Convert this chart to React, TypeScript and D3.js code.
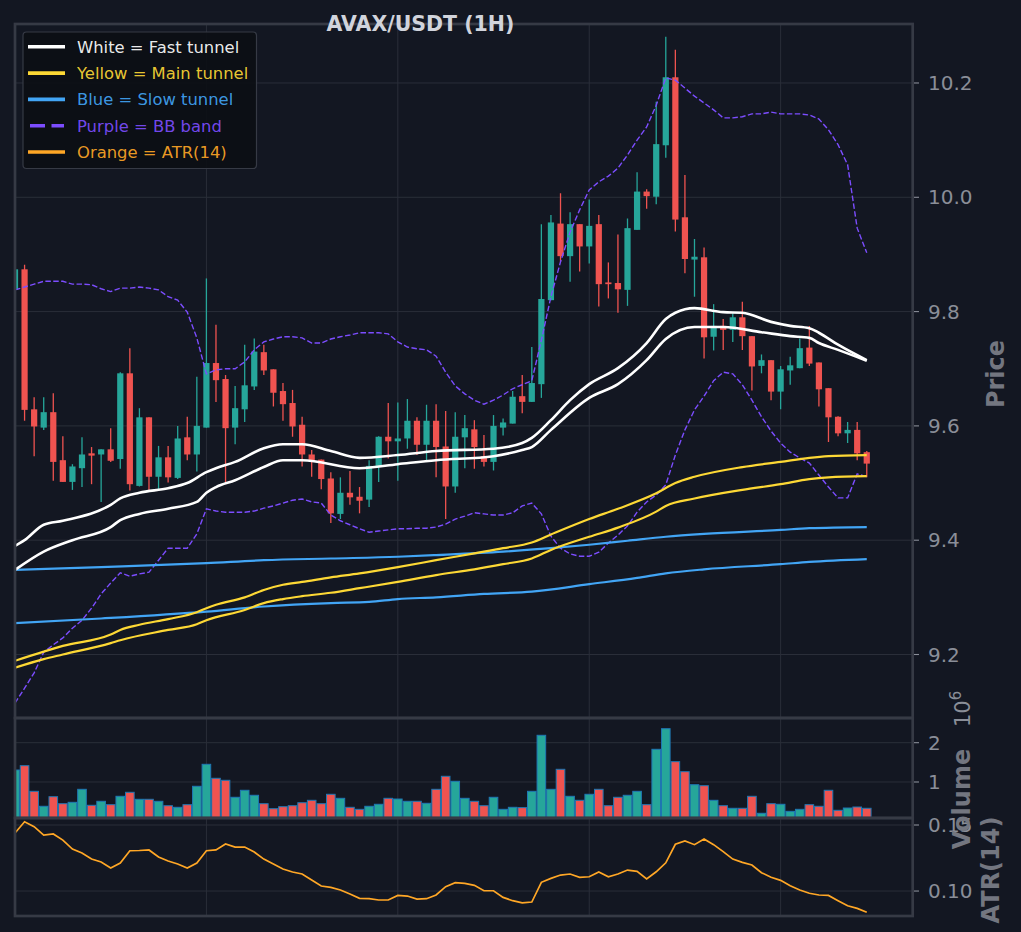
import React from "react";
import * as d3 from "d3";

// ---------------- DATA ----------------
const titleText = "AVAX/USDT (1H)";

const opens = [
  9.838, 9.874, 9.629, 9.597, 9.624, 9.540, 9.502, 9.526, 9.552, 9.550,
  9.559, 9.542, 9.692, 9.495, 9.615, 9.511, 9.545, 9.509, 9.580, 9.550,
  9.597, 9.710, 9.682, 9.597, 9.629, 9.669, 9.729, 9.699, 9.661, 9.640,
  9.602, 9.550, 9.541, 9.508, 9.446, 9.483, 9.476, 9.471, 9.530, 9.581,
  9.573, 9.578, 9.609, 9.567, 9.609, 9.564, 9.494, 9.580, 9.594, 9.547,
  9.537, 9.597, 9.604, 9.652, 9.642, 9.673, 9.820, 9.954, 9.897, 9.953,
  9.914, 9.953, 9.851, 9.850, 9.838, 9.943, 10.010, 10.001, 10.091, 10.210,
  9.965, 9.891, 9.895, 9.756, 9.775, 9.768, 9.790, 9.757, 9.705, 9.715,
  9.660, 9.697, 9.701, 9.737, 9.711, 9.666, 9.616, 9.587, 9.593, 9.554,
];
const highs = [
  9.876, 9.882, 9.650, 9.650, 9.657, 9.582, 9.533, 9.580, 9.563, 9.559,
  9.596, 9.694, 9.736, 9.631, 9.615, 9.565, 9.565, 9.600, 9.616, 9.686,
  9.858, 9.777, 9.689, 9.670, 9.742, 9.753, 9.742, 9.699, 9.675, 9.663,
  9.616, 9.558, 9.541, 9.519, 9.510, 9.521, 9.493, 9.540, 9.582, 9.640,
  9.641, 9.647, 9.615, 9.637, 9.638, 9.626, 9.624, 9.619, 9.610, 9.584,
  9.619, 9.613, 9.661, 9.689, 9.738, 9.953, 9.969, 10.007, 9.974, 9.953,
  9.996, 9.969, 9.886, 9.935, 9.963, 10.044, 10.014, 10.167, 10.281, 10.258,
  10.039, 9.927, 9.912, 9.813, 9.787, 9.797, 9.817, 9.757, 9.725, 9.715,
  9.705, 9.721, 9.753, 9.775, 9.711, 9.666, 9.617, 9.607, 9.607, 9.556,
];
const lows = [
  9.830, 9.609, 9.547, 9.593, 9.504, 9.502, 9.488, 9.493, 9.498, 9.467,
  9.537, 9.525, 9.487, 9.494, 9.488, 9.488, 9.501, 9.507, 9.540, 9.520,
  9.597, 9.642, 9.501, 9.568, 9.607, 9.663, 9.689, 9.634, 9.609, 9.581,
  9.529, 9.511, 9.489, 9.430, 9.437, 9.462, 9.447, 9.458, 9.502, 9.543,
  9.504, 9.560, 9.549, 9.539, 9.510, 9.437, 9.483, 9.526, 9.525, 9.529,
  9.522, 9.583, 9.604, 9.622, 9.642, 9.649, 9.820, 9.887, 9.852, 9.870,
  9.884, 9.809, 9.823, 9.798, 9.810, 9.943, 9.980, 9.988, 10.069, 9.940,
  9.867, 9.826, 9.718, 9.732, 9.733, 9.747, 9.733, 9.662, 9.692, 9.645,
  9.629, 9.672, 9.701, 9.705, 9.634, 9.572, 9.582, 9.570, 9.540, 9.510,
];
const closes = [
  9.874, 9.628, 9.599, 9.624, 9.537, 9.502, 9.529, 9.550, 9.548, 9.559,
  9.539, 9.692, 9.498, 9.615, 9.511, 9.545, 9.510, 9.578, 9.550, 9.600,
  9.710, 9.680, 9.596, 9.631, 9.671, 9.730, 9.697, 9.658, 9.638, 9.599,
  9.550, 9.540, 9.507, 9.447, 9.483, 9.475, 9.469, 9.530, 9.581, 9.573,
  9.578, 9.609, 9.567, 9.609, 9.563, 9.494, 9.581, 9.596, 9.563, 9.537,
  9.600, 9.606, 9.651, 9.642, 9.675, 9.822, 9.956, 9.897, 9.953, 9.914,
  9.950, 9.848, 9.848, 9.839, 9.946, 10.010, 10.002, 10.093, 10.210, 9.961,
  9.892, 9.896, 9.755, 9.775, 9.768, 9.790, 9.757, 9.704, 9.715, 9.660,
  9.699, 9.706, 9.736, 9.709, 9.664, 9.615, 9.587, 9.593, 9.552, 9.534,
];
// volume, in millions (axis offset 10^6)
const volumesM = [
  1.305, 1.415, 0.763, 0.382, 0.626, 0.448, 0.483, 0.814, 0.407, 0.509,
  0.423, 0.636, 0.738, 0.560, 0.560, 0.509, 0.397, 0.356, 0.423, 0.891,
  1.450, 1.094, 1.043, 0.611, 0.789, 0.662, 0.448, 0.321, 0.372, 0.397,
  0.473, 0.534, 0.448, 0.687, 0.585, 0.356, 0.305, 0.382, 0.433, 0.585,
  0.567, 0.509, 0.509, 0.458, 0.814, 1.145, 1.018, 0.585, 0.509, 0.397,
  0.611, 0.305, 0.356, 0.348, 0.763, 2.188, 0.814, 1.323, 0.636, 0.534,
  0.687, 0.814, 0.397, 0.611, 0.662, 0.763, 0.423, 1.832, 2.356, 1.517,
  1.262, 0.931, 0.906, 0.534, 0.397, 0.331, 0.331, 0.636, 0.204, 0.448,
  0.433, 0.254, 0.305, 0.423, 0.382, 0.789, 0.280, 0.338, 0.364, 0.331,
];
const atr14 = [
  0.1439, 0.1525, 0.1487, 0.1424, 0.1432, 0.1386, 0.1318, 0.1288, 0.1242, 0.1220,
  0.1174, 0.1212, 0.1305, 0.1307, 0.1311, 0.1258, 0.1227, 0.1205, 0.1174, 0.1212,
  0.1305, 0.1311, 0.1356, 0.1333, 0.1333, 0.1295, 0.1242, 0.1205, 0.1167, 0.1144,
  0.1129, 0.1083, 0.1038, 0.1028, 0.1008, 0.0977, 0.0945, 0.0942, 0.0932, 0.0932,
  0.0967, 0.0962, 0.0939, 0.0942, 0.0970, 0.1033, 0.1063, 0.1058, 0.1043, 0.1002,
  0.1002, 0.0952, 0.0927, 0.0911, 0.0917, 0.1066, 0.1096, 0.1121, 0.1129, 0.1104,
  0.1108, 0.1144, 0.1108, 0.1129, 0.1159, 0.1149, 0.1091, 0.1146, 0.1214, 0.1354,
  0.1379, 0.1351, 0.1394, 0.1351, 0.1298, 0.1242, 0.1217, 0.1197, 0.1139, 0.1104,
  0.1081, 0.1040, 0.1008, 0.0983, 0.0970, 0.0967, 0.0927, 0.0889, 0.0869, 0.0839,
];
const bbUpper = [
  9.838, 9.843, 9.848, 9.853, 9.853, 9.853, 9.848, 9.848, 9.847, 9.840,
  9.835, 9.841, 9.841, 9.843, 9.841, 9.838, 9.826, 9.820, 9.799, 9.754,
  9.691, 9.698, 9.700, 9.700, 9.712, 9.733, 9.747, 9.752, 9.756, 9.756,
  9.754, 9.745, 9.745, 9.752, 9.756, 9.759, 9.763, 9.763, 9.763, 9.761,
  9.747, 9.738, 9.735, 9.733, 9.722, 9.694, 9.670, 9.656, 9.645, 9.638,
  9.645, 9.654, 9.665, 9.672, 9.679, 9.750, 9.826, 9.887, 9.939, 9.978,
  10.013, 10.027, 10.037, 10.051, 10.074, 10.100, 10.123, 10.161, 10.209, 10.205,
  10.191, 10.177, 10.165, 10.153, 10.139, 10.139, 10.141, 10.146, 10.146, 10.149,
  10.146, 10.146, 10.146, 10.144, 10.137, 10.118, 10.092, 10.057, 9.946, 9.903,
];
const bbLower = [
  9.115, 9.141, 9.168, 9.204, 9.217, 9.229, 9.246, 9.260, 9.281, 9.306,
  9.325, 9.343, 9.337, 9.341, 9.344, 9.365, 9.386, 9.386, 9.386, 9.411,
  9.455, 9.451, 9.449, 9.449, 9.449, 9.451, 9.456, 9.460, 9.465, 9.470,
  9.472, 9.467, 9.465, 9.444, 9.434, 9.427, 9.420, 9.414, 9.416, 9.418,
  9.420, 9.420, 9.421, 9.421, 9.423, 9.428, 9.437, 9.442, 9.448, 9.446,
  9.444, 9.444, 9.448, 9.460, 9.465, 9.446, 9.407, 9.386, 9.376, 9.372,
  9.372, 9.379, 9.395, 9.409, 9.425, 9.449, 9.467, 9.479, 9.497, 9.549,
  9.593, 9.628, 9.652, 9.679, 9.694, 9.691, 9.672, 9.645, 9.616, 9.591,
  9.570, 9.554, 9.544, 9.535, 9.514, 9.493, 9.474, 9.474, 9.516, 9.511,
];
// tunnel lines read as [candle index, price]
const fastUpper: [number, number][] = [
  [0, 9.390], [1, 9.400], [3, 9.427], [5, 9.434], [10, 9.462], [11, 9.473], [13, 9.483],
  [16, 9.491], [18, 9.500], [20, 9.519], [21, 9.526], [23, 9.537], [26, 9.561], [28, 9.568],
  [30, 9.568], [33, 9.556], [36, 9.544], [40, 9.549], [44, 9.556], [50, 9.560], [53, 9.570],
  [54, 9.579], [56, 9.610], [58, 9.645], [60, 9.673], [63, 9.701], [66, 9.745], [68, 9.787],
  [69, 9.798], [71, 9.806], [74, 9.799], [76, 9.798], [79, 9.782], [81, 9.775], [83, 9.771],
  [84, 9.763], [86, 9.742], [89, 9.715],
];
const fastLower: [number, number][] = [
  [0, 9.348], [3, 9.380], [6, 9.400], [10, 9.423], [11, 9.435], [13, 9.446], [16, 9.455],
  [19, 9.467], [20, 9.483], [21, 9.493], [23, 9.505], [26, 9.528], [28, 9.540], [30, 9.540],
  [36, 9.526], [40, 9.533], [44, 9.540], [50, 9.547], [53, 9.558], [54, 9.563], [56, 9.593],
  [60, 9.649], [63, 9.673], [66, 9.715], [68, 9.752], [71, 9.773], [74, 9.773], [78, 9.764],
  [81, 9.757], [83, 9.754], [84, 9.745], [86, 9.733], [89, 9.714],
];
const mainUpper: [number, number][] = [
  [0, 9.189], [3, 9.205], [5, 9.215], [10, 9.235], [11, 9.243], [13, 9.252], [16, 9.262],
  [19, 9.274], [20, 9.281], [21, 9.287], [24, 9.300], [26, 9.313], [28, 9.322], [30, 9.327],
  [33, 9.335], [36, 9.342], [40, 9.353], [44, 9.365], [48, 9.377], [51, 9.386], [54, 9.396],
  [56, 9.410], [60, 9.437], [63, 9.455], [67, 9.482], [69, 9.500], [71, 9.511], [76, 9.528],
  [80, 9.537], [83, 9.544], [85, 9.547], [89, 9.549],
];
const mainLower: [number, number][] = [
  [0, 9.177], [3, 9.192], [5, 9.200], [10, 9.220], [11, 9.225], [16, 9.243], [19, 9.253],
  [20, 9.260], [24, 9.278], [26, 9.290], [28, 9.297], [30, 9.302], [33, 9.308], [36, 9.316],
  [40, 9.327], [44, 9.339], [48, 9.349], [51, 9.358], [54, 9.368], [56, 9.383], [60, 9.406],
  [63, 9.422], [67, 9.450], [68, 9.460], [71, 9.473], [76, 9.488], [80, 9.498], [83, 9.507],
  [85, 9.510], [89, 9.512],
];
const slowUpper: [number, number][] = [
  [0, 9.348], [9, 9.353], [20, 9.360], [26, 9.365], [33, 9.368], [40, 9.371], [44, 9.374],
  [51, 9.380], [56, 9.386], [60, 9.392], [64, 9.399], [68, 9.406], [72, 9.411], [80, 9.418],
  [83, 9.421], [89, 9.423],
];
const slowLower: [number, number][] = [
  [0, 9.255], [9, 9.263], [20, 9.275], [26, 9.284], [33, 9.290], [37, 9.292], [40, 9.297],
  [44, 9.300], [49, 9.306], [54, 9.310], [60, 9.323], [65, 9.334], [68, 9.342], [72, 9.349],
  [80, 9.358], [83, 9.362], [89, 9.367],
];

const priceTicks = [9.2, 9.4, 9.6, 9.8, 10.0, 10.2];
const volumeTicks = [1, 2];
const atrTicks = [0.1, 0.15];
const xGridTicks = [0, 20, 40, 60, 80];

const legendItems = [
  { label: "White = Fast tunnel", color: "#ffffff", dashed: false },
  { label: "Yellow = Main tunnel", color: "#fdd835", dashed: false },
  { label: "Blue = Slow tunnel", color: "#42a5f5", dashed: false },
  { label: "Purple = BB band", color: "#7c4dff", dashed: true },
  { label: "Orange = ATR(14)", color: "#ffa726", dashed: false },
];

// ---------------- STYLE ----------------
const BG = "#131722";
const GRID = "#2a2e39";
const SPINE = "#363a45";
const UP = "#26a69a";
const DOWN = "#ef5350";
const TICK_TXT = "#8a8e98";
const LABEL_TXT = "#737680";
const FONT = "DejaVu Sans, Verdana, sans-serif";

const W = 1021;
const H = 932;
const LEFT = 15;
const RIGHT = 912.7;
const MAIN_TOP = 24;
const MAIN_BOTTOM = 718;
const VOL_BOTTOM = 818;
const ATR_BOTTOM = 916;

export default function App() {
  const x = d3.scaleLinear().domain([0, 93.8]).range([LEFT, RIGHT]);
  const yP = d3.scaleLinear().domain([9.0889, 10.3032]).range([MAIN_BOTTOM, MAIN_TOP]);
  const yV = d3.scaleLinear().domain([0.084, 2.628]).range([VOL_BOTTOM, MAIN_BOTTOM]);
  const yA = d3.scaleLinear().domain([0.0811, 0.1553]).range([ATR_BOTTOM, VOL_BOTTOM]);

  const pairLine = d3
    .line<[number, number]>()
    .x((d) => x(d[0]))
    .y((d) => yP(d[1]))
    .curve(d3.curveMonotoneX);
  const seriesLine = (scale: d3.ScaleLinear<number, number>) =>
    d3
      .line<number>()
      .x((_, i) => x(i))
      .y((d) => scale(d));

  const bodyW = x(0.65) - x(0);
  const barW = x(0.9) - x(0);

  const candles = opens.map((o, i) => {
    const c = closes[i];
    const up = c >= o;
    const col = up ? UP : DOWN;
    const top = yP(Math.max(o, c));
    const bot = yP(Math.min(o, c));
    const cx = x(i);
    return (
      <g key={"c" + i}>
        <line x1={cx} x2={cx} y1={yP(highs[i])} y2={yP(lows[i])} stroke={col} strokeWidth={1.3} />
        <rect x={cx - bodyW / 2} y={top} width={bodyW} height={Math.max(1.2, bot - top)} fill={col} />
      </g>
    );
  });

  const vols = volumesM.map((v, i) => {
    const up = closes[i] >= opens[i];
    return (
      <rect
        key={"v" + i}
        x={x(i) - barW / 2}
        y={yV(v)}
        width={barW}
        height={yV(0) - yV(v)}
        fill={up ? UP : DOWN}
        stroke="#1f77b4"
        strokeWidth={1}
      />
    );
  });

  const tickLen = 5;

  return (
    <svg
      width={W}
      height={H}
      viewBox={`0 0 ${W} ${H}`}
      style={{ position: "absolute", left: 0, top: 0, display: "block" }}
      fontFamily={FONT}
    >
      <defs>
        <clipPath id="clipMain">
          <rect x={LEFT} y={MAIN_TOP} width={RIGHT - LEFT} height={MAIN_BOTTOM - MAIN_TOP} />
        </clipPath>
        <clipPath id="clipVol">
          <rect x={LEFT} y={MAIN_BOTTOM} width={RIGHT - LEFT} height={VOL_BOTTOM - MAIN_BOTTOM} />
        </clipPath>
        <clipPath id="clipAtr">
          <rect x={LEFT} y={VOL_BOTTOM} width={RIGHT - LEFT} height={ATR_BOTTOM - VOL_BOTTOM} />
        </clipPath>
      </defs>
      <rect x={0} y={0} width={W} height={H} fill={BG} />

      {/* grids */}
      <g stroke={GRID} strokeWidth={1}>
        {priceTicks.map((t) => (
          <line key={"gp" + t} x1={LEFT} x2={RIGHT} y1={yP(t)} y2={yP(t)} />
        ))}
        {volumeTicks.map((t) => (
          <line key={"gv" + t} x1={LEFT} x2={RIGHT} y1={yV(t)} y2={yV(t)} />
        ))}
        {atrTicks.map((t) => (
          <line key={"ga" + t} x1={LEFT} x2={RIGHT} y1={yA(t)} y2={yA(t)} />
        ))}
        {xGridTicks.map((t) => (
          <line key={"gx" + t} x1={x(t)} x2={x(t)} y1={MAIN_TOP} y2={ATR_BOTTOM} />
        ))}
      </g>

      {/* main panel */}
      <g clipPath="url(#clipMain)">
        {candles}
        <path d={seriesLine(yP)(bbUpper) || ""} fill="none" stroke="#7c4dff" strokeWidth={1.4} strokeDasharray="5.5,2.4" />
        <path d={seriesLine(yP)(bbLower) || ""} fill="none" stroke="#7c4dff" strokeWidth={1.4} strokeDasharray="5.5,2.4" />
        <path d={pairLine(slowUpper) || ""} fill="none" stroke="#42a5f5" strokeWidth={2.2} />
        <path d={pairLine(slowLower) || ""} fill="none" stroke="#42a5f5" strokeWidth={2.2} />
        <path d={pairLine(mainUpper) || ""} fill="none" stroke="#fdd835" strokeWidth={2.2} />
        <path d={pairLine(mainLower) || ""} fill="none" stroke="#fdd835" strokeWidth={2.2} />
        <path d={pairLine(fastUpper) || ""} fill="none" stroke="#ffffff" strokeWidth={2.6} />
        <path d={pairLine(fastLower) || ""} fill="none" stroke="#ffffff" strokeWidth={2.6} />
      </g>

      {/* volume panel */}
      <g clipPath="url(#clipVol)">{vols}</g>

      {/* ATR panel */}
      <g clipPath="url(#clipAtr)">
        <path d={seriesLine(yA)(atr14) || ""} fill="none" stroke="#ffa726" strokeWidth={1.7} />
      </g>

      {/* spines */}
      <g fill="none" stroke={SPINE} strokeWidth={2.7}>
        <rect x={LEFT} y={MAIN_TOP} width={RIGHT - LEFT} height={MAIN_BOTTOM - MAIN_TOP} />
        <rect x={LEFT} y={MAIN_BOTTOM} width={RIGHT - LEFT} height={VOL_BOTTOM - MAIN_BOTTOM} />
        <rect x={LEFT} y={VOL_BOTTOM} width={RIGHT - LEFT} height={ATR_BOTTOM - VOL_BOTTOM} />
      </g>

      {/* right ticks + labels */}
      <g stroke={TICK_TXT} strokeWidth={1.1}>
        {priceTicks.map((t) => (
          <line key={"tp" + t} x1={RIGHT + 1.3} x2={RIGHT + 1.3 + tickLen} y1={yP(t)} y2={yP(t)} />
        ))}
        {volumeTicks.map((t) => (
          <line key={"tv" + t} x1={RIGHT + 1.3} x2={RIGHT + 1.3 + tickLen} y1={yV(t)} y2={yV(t)} />
        ))}
        {atrTicks.map((t) => (
          <line key={"ta" + t} x1={RIGHT + 1.3} x2={RIGHT + 1.3 + tickLen} y1={yA(t)} y2={yA(t)} />
        ))}
      </g>
      <g fill={TICK_TXT} fontSize={20}>
        {priceTicks.map((t) => (
          <text key={"lp" + t} x={928} y={yP(t)} dy="0.36em">
            {t.toFixed(1)}
          </text>
        ))}
        {volumeTicks.map((t) => (
          <text key={"lv" + t} x={928} y={yV(t)} dy="0.36em">
            {String(t)}
          </text>
        ))}
        {atrTicks.map((t) => (
          <text key={"la" + t} x={928} y={yA(t)} dy="0.36em">
            {t.toFixed(2)}
          </text>
        ))}
        <text transform="translate(970,727) rotate(-90)" fontSize={21}>
          10
          <tspan dy={-9} fontSize={15}>
            6
          </tspan>
        </text>
      </g>
      <g fill={LABEL_TXT} fontSize={24} fontWeight="bold" textAnchor="middle">
        <text transform="translate(1004,374) rotate(-90)">Price</text>
        <text transform="translate(970,799) rotate(-90)">Volume</text>
        <text transform="translate(999,870) rotate(-90)">ATR(14)</text>
      </g>

      {/* title */}
      <text x={420.5} y={31} textAnchor="middle" fontSize={20.5} fontWeight="bold" fill="#d1d4dc">
        {titleText}
      </text>

      {/* legend */}
      <g>
        <rect x={23} y={32} width={233.5} height={136.5} rx={3.5} fill="#0c0f15" fillOpacity={0.92} stroke={SPINE} strokeWidth={1.2} />
        {legendItems.map((it, k) => {
          const cy = 46.8 + k * 26.3;
          return (
            <g key={"lg" + k}>
              {it.dashed ? (
                <line x1={30} x2={64} y1={cy} y2={cy} stroke={it.color} strokeWidth={3.6} strokeDasharray="15,6.5" />
              ) : (
                <line x1={28} x2={65} y1={cy} y2={cy} stroke={it.color} strokeWidth={3.6} />
              )}
              <text x={77} y={cy} dy="0.36em" fontSize={16.4} fill={it.color} fillOpacity={0.93}>
                {it.label}
              </text>
            </g>
          );
        })}
      </g>
    </svg>
  );
}
